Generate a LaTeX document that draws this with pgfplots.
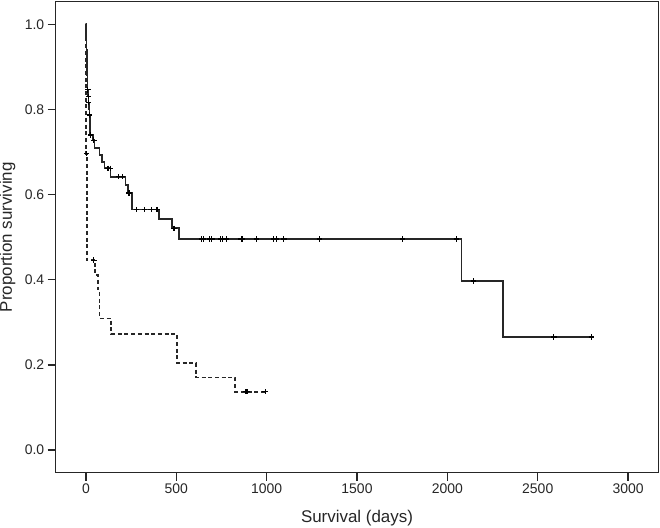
\documentclass[border=0pt]{standalone}
\usepackage{fontspec}
\setmainfont{Liberation Sans}
\usepackage{pgfplots}
\pgfplotsset{compat=1.18}
\begin{document}
\begin{tikzpicture}
\useasboundingbox (-55.7bp,-55.3bp) rectangle (604.3bp,472.7bp);
\begin{axis}[
  at={(0,0)}, anchor=south west,
  scale only axis, width=602.6bp, height=471bp,
  xmin=-167, xmax=3167, ymin=-0.053, ymax=1.053,
  xtick={0,500,1000,1500,2000,2500,3000},
  ytick={0,0.2,0.4,0.6,0.8,1.0},
  /pgf/number format/assume math mode=true,
  /pgf/number format/1000 sep={},
  yticklabel style={/pgf/number format/.cd, fixed, fixed zerofill, precision=1},
  tick label style={font=\fontsize{14}{16}\selectfont, text=black!85},
  label style={font=\fontsize{17}{20}\selectfont, text=black!85},
  xlabel={Survival (days)}, ylabel={Proportion surviving},
  xlabel style={at={(axis description cs:0.5,-0.0962)}, anchor=center},
  ylabel style={at={(axis description cs:-0.0800,0.5)}, anchor=center},
  axis line style={line width=1.5bp, black!85},
  tick style={line width=1.4bp, black!85},
  major tick length=8bp, tick align=outside,
  xtick pos=bottom, ytick pos=left,
]
% group 1 (solid)
\addplot[const plot, black!85, line width=1.6bp] coordinates {
(0,1.0) (2,0.97) (3,0.94) (5,0.91) (6,0.88) (8,0.86) (10,0.846) (12,0.830)
(14,0.816) (17,0.800) (19,0.787) (22,0.765) (24,0.740) (39,0.728) (48,0.710)
(76,0.693) (90,0.677) (103,0.662) (137,0.642) (220,0.623) (232,0.604)
(254,0.565) (404,0.543) (477,0.521) (514,0.496) (2078,0.397) (2309,0.2655)
(2797,0.2655)
};
\addplot[only marks, black, mark=+, mark size=2.7bp, mark options={line width=1.2bp}] coordinates {
(11,0.846) (13,0.830) (15,0.816) (20,0.787) (26,0.740) (44,0.728)
(122,0.662) (135,0.662) (181,0.642) (201,0.642) (238,0.604)
(279,0.565) (324,0.565) (361,0.565) (393,0.565) (487,0.521)
(638,0.496) (651,0.496) (684,0.496) (697,0.496) (745,0.496) (757,0.496)
(776,0.496) (859,0.496) (864,0.496) (945,0.496) (1038,0.496) (1053,0.496)
(1095,0.496) (1292,0.496) (1752,0.496) (2051,0.496)
(2143,0.397) (2589,0.2655) (2797,0.2655)
};
% group 2 (dashed)
\addplot[const plot, black!85, line width=1.6bp, dash pattern=on 4bp off 2.7bp] coordinates {
(0,1.0) (1,0.696) (6,0.446) (52,0.411) (68,0.377) (76,0.309) (140,0.2725)
(503,0.2045) (610,0.1705) (826,0.137) (992,0.137)
};
\addplot[only marks, black, mark=+, mark size=2.7bp, mark options={line width=1.2bp, solid}] coordinates {
(4,0.696) (44,0.446) (886,0.137) (893,0.137) (992,0.137)
};
\end{axis}
\end{tikzpicture}
\end{document}
